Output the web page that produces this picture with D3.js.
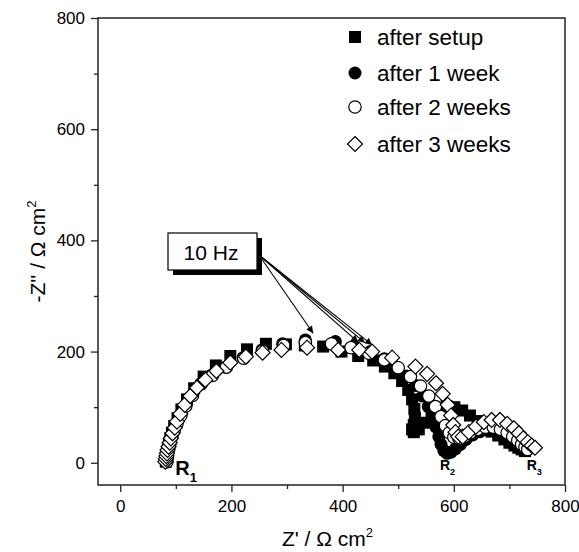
<!DOCTYPE html>
<html>
<head>
<meta charset="utf-8">
<script src="https://cdn.jsdelivr.net/npm/d3@7"></script>
<style>
  body { margin: 0; background: #fff; }
  svg { font-family: "Liberation Sans", Arial, sans-serif; }
</style>
</head>
<body>
<div id="chart"></div>
<script>
// Series values: [Z', -Z''] in Ohm cm2
const afterSetup = [
  [82,2],[83,8],[84,14],[85,20],[86,27],[88,35],[90,44],[93,54],[97,66],[103,80],
  [110,96],[120,114],[133,134],[150,155],[172,175],[198,192],[228,204],[262,214],[298,213],[332,211],
  [365,209],[398,200],[428,192],[455,184],[476,173],[493,161],[507,147],[518,131],[525,114],[529,97],
  [530,81],[528,68],[525,60],[528,55],[537,60],[548,72],[560,85],[573,96],[587,102],[601,100],
  [615,94],[629,85],[643,75],[656,65],[668,56],[680,49],[691,42],[700,36],[709,31],[716,27],[722,24],[728,21]
];
const afterWeek1 = [
  [83,2],[83,8],[84,14],[85,21],[87,29],[89,37],[92,47],[96,58],[101,70],[108,85],
  [117,102],[129,121],[145,142],[165,158],[190,172],[221,189],[255,203],[292,214],[333,221],[387,218],
  [420,210],[450,200],[475,187],[497,172],[515,156],[531,139],[544,120],[554,101],[562,82],[568,64],
  [573,47],[577,33],[582,22],[588,17],[595,19],[603,25],[612,33],[622,42],[634,50],[647,56],
  [661,59],[675,57],[688,52],[699,46],[708,39],[715,32],[721,27],[726,22]
];
const afterWeek2 = [
  [84,2],[84,8],[85,14],[86,21],[88,29],[90,37],[93,47],[97,58],[102,70],[109,85],
  [118,102],[130,121],[146,142],[166,157],[191,172],[222,188],[256,201],[294,211],[333,216],[380,214],
  [415,207],[447,197],[475,185],[500,171],[522,155],[540,138],[555,120],[567,101],[577,83],[585,67],
  [592,54],[600,46],[609,44],[619,47],[630,54],[643,60],[657,64],[671,64],[684,60],[696,54],
  [706,47],[715,40],[722,33],[728,28],[733,24]
];
const afterWeek3 = [
  [81,2],[82,7],[83,12],[84,17],[85,23],[87,29],[89,36],[91,44],[94,53],[98,63],
  [102,74],[108,88],[116,104],[126,120],[138,135],[153,149],[173,165],[198,180],[226,191],[256,198],
  [290,203],[336,207],[392,203],[430,203],[453,200],[489,189],[531,173],[552,160],[568,143],[580,124],
  [589,104],[595,85],[599,68],[603,55],[608,47],[616,47],[627,55],[640,65],[654,73],[668,77],
  [683,77],[696,70],[708,62],[717,53],[725,44],[733,37],[740,31],[746,27]
];

const seriesNames = ["after setup", "after 1 week", "after 2 weeks", "after 3 weeks"];
const seriesData = [afterSetup, afterWeek1, afterWeek2, afterWeek3];
const seriesSymbols = ["square", "dot", "circle", "diamond"];

const xTicks = [0, 200, 400, 600, 800];
const xMinor = [100, 300, 500, 700];
const yTicks = [0, 200, 400, 600, 800];
const yMinor = [100, 300, 500, 700];

// arrow tips of the "10 Hz" callout, in data units
const arrowTips = [[347,233],[428,217],[440,216],[453,212]];

const W = 579, H = 552;
const plot = { left: 98, right: 565, top: 18, bottom: 485 };

const svg = d3.select("#chart").append("svg")
  .attr("width", W).attr("height", H);

const x = d3.scaleLinear().domain([-40, 800]).range([plot.left, plot.right]);
const y = d3.scaleLinear().domain([-40, 800]).range([plot.bottom, plot.top]);

const axisColor = "#222";

// frame
svg.append("rect")
  .attr("x", plot.left).attr("y", plot.top)
  .attr("width", plot.right - plot.left).attr("height", plot.bottom - plot.top)
  .attr("fill", "none").attr("stroke", axisColor).attr("stroke-width", 1.5);

// x axis
const gx = svg.append("g").attr("transform", `translate(0,${plot.bottom})`);
gx.call(d3.axisBottom(x).tickValues(xTicks).tickSize(7).tickPadding(8).tickFormat(d3.format("d")));
gx.append("g").call(d3.axisBottom(x).tickValues(xMinor).tickSize(4).tickFormat(""));
gx.selectAll(".domain").remove();
gx.selectAll("line").attr("stroke", axisColor).attr("stroke-width", 1.3);
gx.selectAll("text").attr("font-size", 17).attr("fill", "#000")
  .attr("font-family", "Liberation Sans, Arial, sans-serif");

// y axis
const gy = svg.append("g").attr("transform", `translate(${plot.left},0)`);
gy.call(d3.axisLeft(y).tickValues(yTicks).tickSize(7).tickPadding(6).tickFormat(d3.format("d")));
gy.append("g").call(d3.axisLeft(y).tickValues(yMinor).tickSize(4).tickFormat(""));
gy.selectAll(".domain").remove();
gy.selectAll("line").attr("stroke", axisColor).attr("stroke-width", 1.3);
gy.selectAll("text").attr("font-size", 17).attr("fill", "#000")
  .attr("font-family", "Liberation Sans, Arial, sans-serif");

// axis titles
const xt = svg.append("text")
  .attr("x", (plot.left + plot.right) / 2 - 4).attr("y", 546)
  .attr("text-anchor", "middle").attr("font-size", 21);
xt.append("tspan").text("Z' / Ω cm");
xt.append("tspan").attr("dy", -9).attr("font-size", 13).text("2");

const yt = svg.append("text")
  .attr("transform", `translate(45,${(plot.top + plot.bottom) / 2}) rotate(-90)`)
  .attr("text-anchor", "middle").attr("font-size", 21);
yt.append("tspan").text("-Z'' / Ω cm");
yt.append("tspan").attr("dy", -9).attr("font-size", 13).text("2");

// markers
function drawSymbol(g, kind, cx, cy) {
  if (kind === "square") {
    g.append("rect").attr("x", cx - 6).attr("y", cy - 6).attr("width", 12).attr("height", 12)
      .attr("fill", "#000");
  } else if (kind === "dot") {
    g.append("circle").attr("cx", cx).attr("cy", cy).attr("r", 6.5).attr("fill", "#000");
  } else if (kind === "circle") {
    g.append("circle").attr("cx", cx).attr("cy", cy).attr("r", 6.2)
      .attr("fill", "#fff").attr("stroke", "#000").attr("stroke-width", 1.2);
  } else {
    g.append("path")
      .attr("d", `M${cx},${cy - 7.5}L${cx + 7.5},${cy}L${cx},${cy + 7.5}L${cx - 7.5},${cy}Z`)
      .attr("fill", "#fff").attr("stroke", "#000").attr("stroke-width", 1.2);
  }
}

seriesData.forEach((data, i) => {
  const g = svg.append("g").attr("class", "series-" + i);
  data.forEach(d => drawSymbol(g, seriesSymbols[i], x(d[0]), y(d[1])));
});

// legend
const legendRows = [37, 73, 107, 144];
const lg = svg.append("g");
seriesNames.forEach((name, i) => {
  drawSymbol(lg, seriesSymbols[i], 355, legendRows[i]);
  lg.append("text").attr("x", 377).attr("y", legendRows[i]).attr("dy", "0.36em")
    .attr("font-size", 22.5).text(name);
});

// 10 Hz callout
svg.append("defs").append("marker")
  .attr("id", "head").attr("viewBox", "0 0 10 10")
  .attr("refX", 10).attr("refY", 5)
  .attr("markerWidth", 10).attr("markerHeight", 7)
  .attr("markerUnits", "userSpaceOnUse")
  .attr("orient", "auto")
  .append("path").attr("d", "M0,0L10,5L0,10Z").attr("fill", "#000");

arrowTips.forEach(t => {
  svg.append("line")
    .attr("x1", 259).attr("y1", 255)
    .attr("x2", x(t[0])).attr("y2", y(t[1]))
    .attr("stroke", "#000").attr("stroke-width", 1.1)
    .attr("marker-end", "url(#head)");
});

svg.append("rect").attr("x", 173).attr("y", 238).attr("width", 89).attr("height", 37).attr("fill", "#000");
svg.append("rect").attr("x", 168).attr("y", 233).attr("width", 89).attr("height", 37)
  .attr("fill", "#fff").attr("stroke", "#000").attr("stroke-width", 1.2);
svg.append("text").attr("x", 211).attr("y", 252).attr("dy", "0.36em")
  .attr("text-anchor", "middle").attr("font-size", 21).text("10 Hz");

// resistance labels
function rLabel(xv, yv, sub, size) {
  const t = svg.append("text").attr("x", x(xv)).attr("y", y(yv))
    .attr("font-size", size).attr("font-weight", "bold");
  t.append("tspan").text("R");
  t.append("tspan").attr("dy", size * 0.35).attr("font-size", size * 0.65).text(sub);
}
rLabel(99, -22, "1", 20);
rLabel(575, -13, "2", 14);
rLabel(731, -13, "3", 14);
</script>
</body>
</html>
